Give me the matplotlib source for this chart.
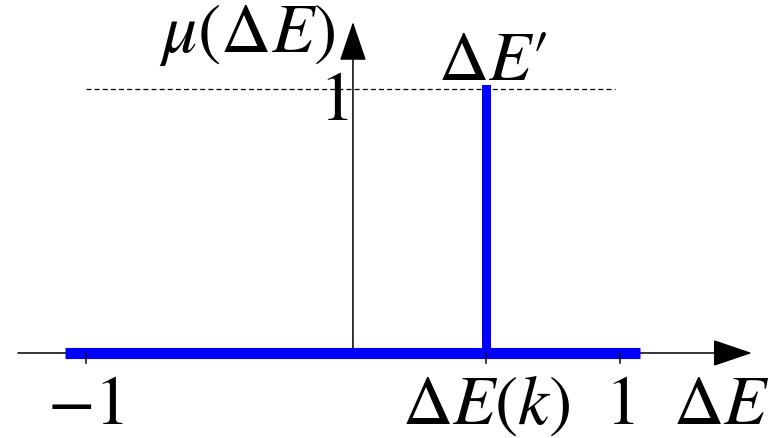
import matplotlib
matplotlib.use("Agg")
import matplotlib.pyplot as plt

plt.rcParams["mathtext.fontset"] = "stix"
plt.rcParams["font.family"] = ["STIXGeneral", "DejaVu Serif"]

# Membership function data
support = [-1.08, 1.075]          # extent of the zero-membership segment
spike_x = 0.5                      # ΔE(k)
spike_height = 1.0                 # membership value at ΔE'
tick_values = [-1, 0.5, 1]
tick_labels = [r"$-1$", r"$\Delta E(k)$", r"$1$"]
dashed_level = 1.0
dashed_span = [-1.0, 0.98]

fig = plt.figure(figsize=(7.78, 4.38), dpi=100)
ax = fig.add_axes([0, 0, 1, 1])
ax.set_xlim(-1.322, 1.592)
ax.set_ylim(-0.322, 1.337)
ax.axis("off")

fs = 50
blue = "#0000ff"

# Axes with arrow heads
arrow = dict(arrowstyle="-|>,head_length=2.5,head_width=0.85", mutation_scale=10,
             color="black", lw=1.1, shrinkA=0, shrinkB=0)
ax.annotate("", xy=(1.494, 0), xytext=(-1.255, 0), arrowprops=arrow, zorder=2)
ax.annotate("", xy=(0, 1.254), xytext=(0, 0), arrowprops=arrow, zorder=2)

# Dashed reference line at membership 1
ax.plot(dashed_span, [dashed_level, dashed_level], color="black", lw=0.9,
        linestyle=(0, (4, 2.5)), zorder=1)

# Blue membership function
ax.plot(support, [0, 0], color=blue, lw=8, solid_capstyle="butt", zorder=3)
ax.plot([spike_x, spike_x], [0, spike_height], color=blue, lw=6.5,
        solid_capstyle="projecting", zorder=3)

# Tick marks and labels
for xv, lab in zip(tick_values, tick_labels):
    ax.plot([xv, xv], [0, -0.038], color="black", lw=1.1, zorder=4)
    ax.text(xv, -0.269, lab, fontsize=fs, ha="center", va="baseline")

ax.text(1.378, -0.269, r"$\Delta E$", fontsize=fs, ha="center", va="baseline")
ax.text(-0.071, 0.883, r"$1$", fontsize=fs, ha="center", va="baseline")
ax.text(-0.067, 1.140, r"$\mu(\Delta E)$", fontsize=fs, ha="right", va="baseline")
ax.text(0.318, 1.034, r"$\Delta E\prime$", fontsize=fs, ha="left", va="baseline")

fig.savefig("out.png", dpi=100)
